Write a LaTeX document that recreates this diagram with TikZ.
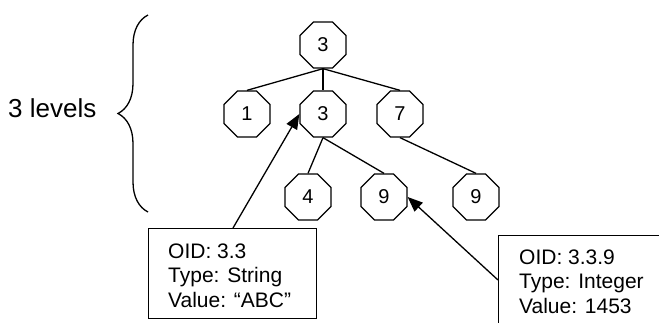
\documentclass[tikz,border=0pt]{standalone}
\usepackage{fontspec}
\setmainfont{Liberation Sans}
\usetikzlibrary{shapes.geometric,arrows.meta,decorations.pathreplacing}
\begin{document}
\begin{tikzpicture}[x=1pt,y=-1pt,
  oct/.style={draw,regular polygon,regular polygon sides=8,minimum size=49.8pt,inner sep=0pt,line width=1.3pt,font=\fontsize{20}{24}\selectfont},
  edge/.style={line width=1.3pt},
  infobox/.style={draw,line width=1.3pt,anchor=north west,inner sep=0pt},
  infotext/.style={anchor=north west,align=left,inner sep=0pt,font=\fontsize{21}{24.5}\selectfont},
  pointer/.style={line width=1.3pt,-{Triangle[length=15pt,width=12pt]}}]
\useasboundingbox (0,0) rectangle (659,322);
\clip (0,0) rectangle (659,322);
% tree nodes
\node[oct] (r) at (323,45) {3};
\node[oct] (n1) at (247,114) {1};
\node[oct] (n3) at (323,114) {3};
\node[oct] (n7) at (400,114) {7};
\node[oct] (n4) at (308,197) {4};
\node[oct] (n9a) at (384,197) {9};
\node[oct] (n9b) at (476,197) {9};
% edges
\draw[edge] (r.south) -- (n1.north);
\draw[edge] (r.south) -- (n3.north);
\draw[edge] (r.south) -- (n7.north);
\draw[edge] (n3.south) -- (n4.north);
\draw[edge] (n3.south) -- (n9a.north);
\draw[edge] (n7.south) -- (n9b.north);
% brace and label
\coordinate (bb) at (148,212);
\coordinate (bt) at (148,15);
\draw[line width=1.3pt,decorate,decoration={brace,amplitude=30pt}] (bb) -- (bt);
\node[anchor=base west,inner sep=0pt,font=\fontsize{26}{30}\selectfont] (lvl) at (8,117) {3 levels};
% info boxes
\node[infobox,minimum width=168pt,minimum height=90pt] (box1) at (148,228) {};
\node[infotext] (t1) at (168,243.5) {OID: 3.3\\Type: String\\Value: “ABC”};
\node[infobox,minimum width=220pt,minimum height=120pt] (box2) at (498,235) {};
\node[infotext] (t2) at (519,249.5) {OID: 3.3.9\\Type: Integer\\Value: 1453};
% pointers
\coordinate (p1) at (233,228);
\coordinate (p2) at (498,280);
\draw[pointer] (p1) -- (n3.west);
\draw[pointer] (p2) -- (n9a.east);
\end{tikzpicture}
\end{document}
